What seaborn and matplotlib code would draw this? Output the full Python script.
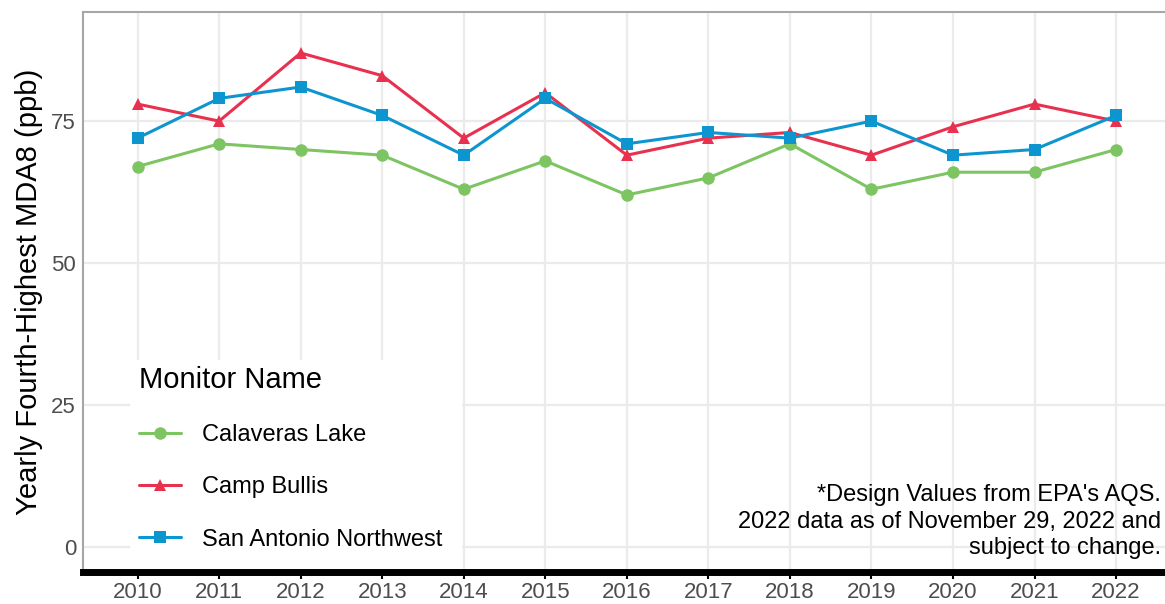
import pandas as pd
import seaborn as sns
import matplotlib.pyplot as plt
from matplotlib.patches import Rectangle

years = list(range(2010, 2023))
calaveras_lake = [67, 71, 70, 69, 63, 68, 62, 65, 71, 63, 66, 66, 70]
camp_bullis = [78, 75, 87, 83, 72, 80, 69, 72, 73, 69, 74, 78, 75]
san_antonio_nw = [72, 79, 81, 76, 69, 79, 71, 73, 72, 75, 69, 70, 76]
monitors = ["Calaveras Lake", "Camp Bullis", "San Antonio Northwest"]
y_ticks = [0, 25, 50, 75]

df = pd.DataFrame({
    "Year": years * 3,
    "Value": calaveras_lake + camp_bullis + san_antonio_nw,
    "Monitor Name": [m for m in monitors for _ in years],
})

sns.set_style("whitegrid")
plt.rcParams["font.family"] = ["Liberation Sans", "DejaVu Sans"]
plt.rcParams["text.color"] = "black"

palette = {"Calaveras Lake": "#7DC462", "Camp Bullis": "#E8314F",
           "San Antonio Northwest": "#0D95D0"}
markers = {"Calaveras Lake": "o", "Camp Bullis": "^", "San Antonio Northwest": "s"}

fig = plt.figure(figsize=(11.65, 6.04), dpi=100)
ax = fig.add_axes([0.0712, 0.053, 0.9288, 0.927])

sns.lineplot(data=df, x="Year", y="Value", hue="Monitor Name", style="Monitor Name",
             palette=palette, markers=markers, dashes=False, hue_order=monitors,
             linewidth=2.2, markersize=9, markeredgewidth=0, ax=ax)

ax.set_xlim(2009.33, 2022.6)
ax.set_ylim(-4.4, 94.2)
ax.set_xticks(years)
ax.set_yticks(y_ticks)
ax.grid(True, color="#EBEBEB", linewidth=1.6)
ax.set_axisbelow(True)
ax.tick_params(axis="both", labelsize=16, labelcolor="#4D4D4D")
ax.tick_params(axis="x", length=5, width=1.5, color="black", bottom=True, pad=2.5)
ax.tick_params(axis="y", length=0, pad=5)
ax.set_xlabel("")
ax.set_ylabel("Yearly Fourth-Highest MDA8 (ppb)", fontsize=21, color="black")
ax.yaxis.set_label_coords(-0.037, 0.5)

for side in ["top", "left"]:
    ax.spines[side].set_color("#A6A6A6")
    ax.spines[side].set_linewidth(1.5)
ax.spines["right"].set_visible(False)
ax.spines["bottom"].set_color("black")
ax.spines["bottom"].set_linewidth(5)

# white panel behind the legend (hides the gridlines like the original)
ax.add_patch(Rectangle((0.0434, 0), 0.307, 0.379, transform=ax.transAxes,
                       facecolor="white", edgecolor="none", zorder=1.5))

leg = ax.legend(title="Monitor Name", loc="upper left", bbox_to_anchor=(0.052, 0.368),
                fontsize=17, title_fontsize=21, frameon=False,
                labelspacing=1.28, handlelength=1.75,
                borderpad=0, handletextpad=0.9, borderaxespad=0)
leg._legend_box.align = "left"

ax.text(0.996, 0.023, "*Design Values from EPA's AQS.\n2022 data as of November 29, 2022 and\nsubject to change.",
        transform=ax.transAxes, ha="right", va="bottom", fontsize=17, linespacing=1.27)

fig.savefig("out.png", dpi=100)
